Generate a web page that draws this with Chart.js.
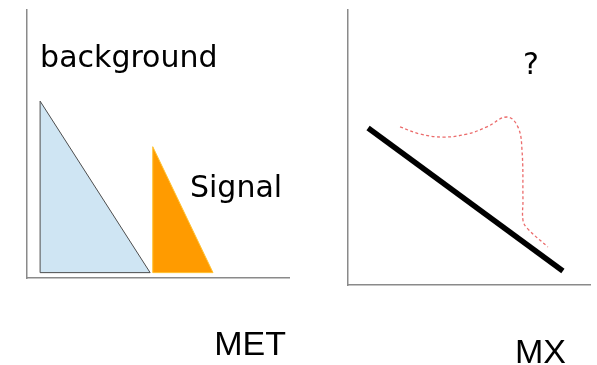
<!DOCTYPE html>
<html>
<head>
<meta charset="utf-8">
<script src="https://cdn.jsdelivr.net/npm/chart.js@4/dist/chart.umd.min.js"></script>
<style>
  html, body { margin: 0; padding: 0; background: #fff; }
  #wrap { position: relative; width: 597px; height: 365px; overflow: hidden; }
  canvas { position: absolute; top: 0; }
  #met { left: 0; }
  #mx { left: 300px; }
</style>
</head>
<body>
<div id="wrap">
  <canvas id="met" width="300" height="365"></canvas>
  <canvas id="mx" width="297" height="365"></canvas>
</div>
<script>
// MET panel: background and signal shapes (x, y) in arbitrary units, 0..10
const backgroundShape = [[0.5, 0.2], [0.5, 6.6], [4.7, 0.2], [0.5, 0.2]];
const signalShape     = [[4.8, 0.2], [4.8, 4.9], [7.1, 0.2], [4.8, 0.2]];

// MX panel: falling background trend and the unknown signal shape
const mxTrend  = [[0.83, 5.71], [8.88, 0.51]];
const mxSignal = [[2.15, 5.75], [2.98, 5.49], [3.93, 5.38], [4.92, 5.49], [5.74, 5.75],
                  [6.57, 6.11], [7.02, 5.75], [7.19, 4.91], [7.23, 3.09], [7.23, 2.36],
                  [7.40, 2.07], [8.26, 1.38]];

// Text placed inside each panel (data coordinates, left/baseline anchored)
const metNotes = [{ text: 'background', x: 0.5, y: 7.87 }, { text: 'Signal', x: 6.22, y: 3.02 }];
const mxNotes  = [{ text: '?', x: 7.23, y: 7.67 }];

// Axis names
const metAxisName = 'MET';
const mxAxisName  = 'MX';

const toPts = arr => arr.map(([x, y]) => ({ x, y }));

const noteFont = '30px "DejaVu Sans", sans-serif';
const axisFont = '34px "Liberation Sans", Arial, sans-serif';

// Draws the in-plot notes and the axis name below the plot
const notesPlugin = {
  id: 'notes',
  afterDraw(chart, args, opts) {
    const { ctx, chartArea, scales } = chart;
    ctx.save();
    ctx.fillStyle = '#000';
    ctx.textBaseline = 'alphabetic';
    ctx.textAlign = 'left';
    ctx.font = noteFont;
    (opts.notes || []).forEach(n => {
      ctx.fillText(n.text, scales.x.getPixelForValue(n.x), scales.y.getPixelForValue(n.y));
    });
    if (opts.axisName) {
      ctx.font = axisFont;
      ctx.textAlign = 'right';
      ctx.fillText(opts.axisName, chartArea.right + opts.axisDx, chartArea.bottom + opts.axisDy);
    }
    ctx.restore();
  }
};

function axes() {
  const axis = pos => ({
    type: 'linear',
    position: pos,
    min: 0,
    max: 10,
    grid: { display: false, drawTicks: false },
    ticks: { display: false },
    border: { display: true, color: '#8a8a8a', width: 1.5 },
    afterFit(scale) {
      if (pos === 'bottom') scale.height = 0; else scale.width = 0;
    }
  });
  return { x: axis('bottom'), y: axis('left') };
}

function baseOptions(padding, notes, axisName, axisDx, axisDy) {
  return {
    responsive: false,
    animation: false,
    layout: { padding },
    scales: axes(),
    plugins: {
      legend: { display: false },
      tooltip: { enabled: false },
      notes: { notes, axisName, axisDx, axisDy }
    },
    elements: { point: { radius: 0, hoverRadius: 0 } }
  };
}

new Chart(document.getElementById('met'), {
  type: 'scatter',
  data: {
    datasets: [
      {
        label: 'background',
        data: toPts(backgroundShape),
        showLine: true,
        fill: 'shape',
        backgroundColor: '#cfe5f3',
        borderColor: '#4d4d4d',
        borderWidth: 1,
        tension: 0
      },
      {
        label: 'Signal',
        data: toPts(signalShape),
        showLine: true,
        fill: 'shape',
        backgroundColor: '#ff9b00',
        borderColor: '#ffc233',
        borderWidth: 1,
        tension: 0
      }
    ]
  },
  options: baseOptions({ left: 27, top: 10, right: 11, bottom: 87 }, metNotes, metAxisName, -3, 77),
  plugins: [notesPlugin]
});

new Chart(document.getElementById('mx'), {
  type: 'scatter',
  data: {
    datasets: [
      {
        label: 'background',
        data: toPts(mxTrend),
        showLine: true,
        borderColor: '#000',
        borderWidth: 5.5,
        tension: 0
      },
      {
        label: 'signal',
        data: toPts(mxSignal),
        showLine: true,
        borderColor: 'rgba(230, 70, 70, 0.8)',
        borderWidth: 1.3,
        borderDash: [3, 2.5],
        tension: 0.4
      }
    ]
  },
  options: baseOptions({ left: 48, top: 10, right: 7, bottom: 80 }, mxNotes, mxAxisName, -24, 78),
  plugins: [notesPlugin]
});
</script>
</body>
</html>
